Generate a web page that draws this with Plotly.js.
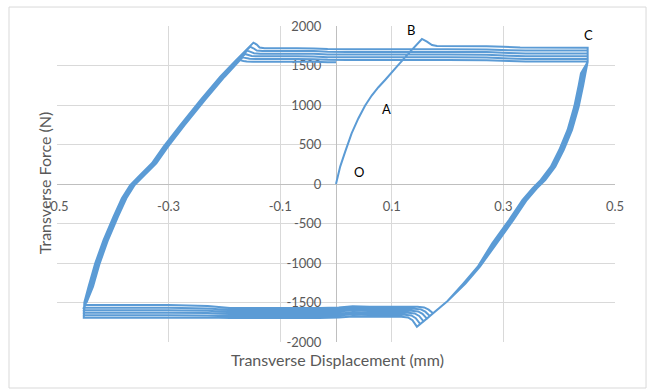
<!DOCTYPE html>
<html>
<head>
<meta charset="utf-8">
<script src="https://cdn.plot.ly/plotly-3.0.1.min.js"></script>
<style>html,body{margin:0;padding:0;background:#fff;}#chart{width:650px;height:392px;}</style>
</head>
<body>
<div id="chart"></div>
<script>
// Tick labels
const xTickVals = [-0.5, -0.3, -0.1, 0.1, 0.3, 0.5];
const xTickText = ['-0.5', '-0.3', '-0.1', '0.1', '0.3', '0.5'];
const yTickVals = [-2000, -1500, -1000, -500, 0, 500, 1000, 1500, 2000];
const yTickText = ['-2000', '-1500', '-1000', '-500', '0', '500', '1000', '1500', '2000'];

// Initial loading O -> A -> B -> C
const initX = [0, 0.0075, 0.0165, 0.028, 0.040, 0.052, 0.064, 0.076, 0.088, 0.109, 0.133, 0.154, 0.163, 0.172, 0.181, 0.27, 0.30, 0.33, 0.451];
const initY = [0, 220, 410, 640, 830, 990, 1120, 1225, 1317, 1485, 1675, 1836, 1802, 1760, 1747, 1745, 1738, 1728, 1726];

// Hysteresis cycles (displacement mm, force N)
const loop1X = [0.451, 0.447, 0.443, 0.435, 0.423, 0.408, 0.393, 0.375, 0.360, 0.342, 0.318, 0.288, 0.258, 0.232, 0.200, 0.172, 0.145, 0.137, 0.129, 0.117, 0.06, 0.03, 0.005, -0.03, -0.19, -0.23, -0.30, -0.452, -0.451, -0.4435, -0.4315, -0.4166, -0.3987, -0.3837, -0.3688, -0.351, -0.330, -0.309, -0.279, -0.243, -0.2075, -0.180, -0.148, -0.142, -0.137, -0.128, -0.07, -0.04, -0.015, 0.02, 0.20, 0.27, 0.31, 0.34, 0.451];
const loop1Y = [1545, 1400, 1250, 980, 684, 430, 219, 51, -55, -203, -456, -751, -1047, -1260, -1480, -1650, -1806, -1725, -1690, -1680, -1680, -1676, -1690, -1696, -1697, -1690, -1693, -1693, -1500, -1300, -1004, -709, -414, -181, -13, 114, 262, 472, 747, 1063, 1358, 1560, 1789, 1765, 1728, 1718, 1718, 1716, 1708, 1706, 1706, 1704, 1694, 1690, 1690];

const loop2X = [0.451, 0.445, 0.441, 0.433, 0.421, 0.406, 0.391, 0.373, 0.358, 0.340, 0.316, 0.286, 0.257, 0.231, 0.200, 0.172, 0.151, 0.143, 0.135, 0.123, 0.06, 0.03, 0.005, -0.03, -0.19, -0.23, -0.30, -0.452, -0.450, -0.4415, -0.4295, -0.4146, -0.3967, -0.3817, -0.3668, -0.349, -0.328, -0.307, -0.277, -0.241, -0.2055, -0.178, -0.154, -0.148, -0.142, -0.132, -0.07, -0.04, -0.015, 0.02, 0.20, 0.27, 0.31, 0.34, 0.451];
const loop2Y = [1545, 1400, 1250, 980, 684, 430, 219, 51, -55, -203, -456, -751, -1047, -1260, -1480, -1650, -1772, -1698, -1664, -1655, -1655, -1650, -1665, -1671, -1672, -1663, -1661, -1661, -1500, -1300, -1004, -709, -414, -181, -13, 114, 262, 472, 747, 1063, 1358, 1560, 1738, 1718, 1690, 1684, 1684, 1682, 1674, 1672, 1672, 1670, 1658, 1652, 1652];

const loop3X = [0.451, 0.443, 0.439, 0.431, 0.419, 0.404, 0.389, 0.371, 0.356, 0.338, 0.314, 0.284, 0.256, 0.230, 0.200, 0.172, 0.157, 0.149, 0.141, 0.129, 0.06, 0.03, 0.005, -0.03, -0.19, -0.23, -0.30, -0.452, -0.4495, -0.4405, -0.4285, -0.4136, -0.3957, -0.3807, -0.3658, -0.348, -0.327, -0.306, -0.276, -0.240, -0.2045, -0.177, -0.159, -0.153, -0.147, -0.136, -0.07, -0.04, -0.015, 0.02, 0.20, 0.27, 0.31, 0.34, 0.451];
const loop3Y = [1545, 1400, 1250, 980, 684, 430, 219, 51, -55, -203, -456, -751, -1047, -1260, -1480, -1650, -1738, -1670, -1639, -1630, -1630, -1625, -1640, -1646, -1647, -1634, -1629, -1629, -1500, -1300, -1004, -709, -414, -181, -13, 114, 262, 472, 747, 1063, 1358, 1560, 1688, 1672, 1655, 1650, 1650, 1648, 1640, 1638, 1638, 1636, 1624, 1618, 1618];

const loop4X = [0.451, 0.442, 0.438, 0.430, 0.418, 0.403, 0.388, 0.370, 0.355, 0.337, 0.313, 0.283, 0.255, 0.229, 0.200, 0.172, 0.163, 0.155, 0.147, 0.135, 0.06, 0.03, 0.005, -0.03, -0.19, -0.23, -0.30, -0.452, -0.4485, -0.4385, -0.4265, -0.4116, -0.3937, -0.3787, -0.3638, -0.346, -0.325, -0.304, -0.274, -0.238, -0.2025, -0.175, -0.163, -0.157, -0.151, -0.140, -0.07, -0.04, -0.015, 0.02, 0.20, 0.27, 0.31, 0.34, 0.451];
const loop4Y = [1545, 1400, 1250, 980, 684, 430, 219, 51, -55, -203, -456, -751, -1047, -1260, -1480, -1650, -1704, -1643, -1613, -1604, -1604, -1599, -1614, -1620, -1621, -1605, -1597, -1597, -1500, -1300, -1004, -709, -414, -181, -13, 114, 262, 472, 747, 1063, 1358, 1560, 1646, 1633, 1620, 1616, 1616, 1614, 1606, 1604, 1604, 1602, 1588, 1582, 1582];

const loop5X = [0.451, 0.440, 0.436, 0.428, 0.416, 0.401, 0.386, 0.368, 0.353, 0.335, 0.311, 0.281, 0.254, 0.228, 0.200, 0.168, 0.160, 0.152, 0.140, 0.06, 0.03, 0.005, -0.03, -0.19, -0.23, -0.30, -0.452, -0.448, -0.4375, -0.4255, -0.4106, -0.3927, -0.3777, -0.3628, -0.345, -0.324, -0.303, -0.273, -0.237, -0.2015, -0.174, -0.167, -0.161, -0.155, -0.144, -0.07, -0.04, -0.015, 0.02, 0.20, 0.27, 0.31, 0.34, 0.451];
const loop5Y = [1545, 1400, 1250, 980, 684, 430, 219, 51, -55, -203, -456, -751, -1047, -1260, -1480, -1670, -1616, -1587, -1578, -1578, -1573, -1588, -1594, -1595, -1575, -1565, -1565, -1500, -1300, -1004, -709, -414, -181, -13, 114, 262, 472, 747, 1063, 1358, 1560, 1604, 1594, 1585, 1582, 1582, 1580, 1572, 1570, 1570, 1568, 1556, 1550, 1550];

const loop6X = [0.451, 0.439, 0.435, 0.427, 0.415, 0.400, 0.385, 0.367, 0.352, 0.334, 0.310, 0.280, 0.254, 0.228, 0.200, 0.174, 0.166, 0.158, 0.146, 0.06, 0.03, 0.005, -0.03, -0.19, -0.23, -0.30, -0.452, -0.447, -0.4355, -0.4235, -0.4086, -0.3907, -0.3757, -0.3608, -0.343, -0.322, -0.301, -0.271, -0.235, -0.1995, -0.172, -0.166, -0.160, -0.149, -0.07, -0.04, -0.015, 0.0];
const loop6Y = [1545, 1400, 1250, 980, 684, 430, 219, 51, -55, -203, -456, -751, -1047, -1260, -1480, -1636, -1590, -1562, -1553, -1553, -1548, -1563, -1569, -1570, -1545, -1533, -1533, -1500, -1300, -1004, -709, -414, -181, -13, 114, 262, 472, 747, 1063, 1358, 1570, 1558, 1551, 1548, 1548, 1546, 1540, 1540];

// Point labels
const labelText = ['O', 'A', 'B', 'C'];
const labelX = [0.042, 0.091, 0.135, 0.4525];
const labelY = [156, 946, 1950, 1886];

const pathX = initX.concat(loop1X, loop2X, loop3X, loop4X, loop5X, loop6X);
const pathY = initY.concat(loop1Y, loop2Y, loop3Y, loop4Y, loop5Y, loop6Y);

const FONT = 'Lato, "Open Sans", sans-serif';
const GRAY = '#595959';

const traces = [{
  x: pathX, y: pathY, type: 'scatter', mode: 'lines',
  line: {color: '#5B9BD5', width: 2, simplify: false},
  hoverinfo: 'skip'
}];

const annotations = labelText.map((t, i) => ({
  x: labelX[i], y: labelY[i], xref: 'x', yref: 'y', text: t, showarrow: false,
  font: {family: FONT, size: 13, color: '#000'}, xanchor: 'center', yanchor: 'middle'
}));
annotations.push({
  xref: 'paper', yref: 'paper', x: 0.502, y: -0.056, text: 'Transverse Displacement (mm)',
  showarrow: false, xanchor: 'center', yanchor: 'middle', font: {family: FONT, size: 16, color: GRAY}
});
annotations.push({
  xref: 'paper', yref: 'paper', x: -0.023, y: 0.503, text: 'Transverse Force (N)', textangle: -90,
  showarrow: false, xanchor: 'center', yanchor: 'middle', font: {family: FONT, size: 16, color: GRAY}
});

const layout = {
  width: 650, height: 392,
  margin: {l: 57, r: 35, t: 26, b: 50},
  paper_bgcolor: '#ffffff', plot_bgcolor: '#ffffff',
  showlegend: false,
  font: {family: FONT, size: 13, color: GRAY},
  xaxis: {
    range: [-0.5, 0.5], tickvals: xTickVals, ticktext: xTickText,
    showgrid: true, gridcolor: '#d9d9d9', gridwidth: 1, zeroline: false,
    showline: true, linecolor: '#bfbfbf', linewidth: 1,
    anchor: 'free', position: 0.5, ticks: '', ticklabelstandoff: 10,
    layer: 'below traces', automargin: false,
    tickfont: {family: FONT, size: 13, color: GRAY}
  },
  yaxis: {
    range: [-2000, 2000], tickvals: yTickVals, ticktext: yTickText,
    showgrid: true, gridcolor: '#d9d9d9', gridwidth: 1, zeroline: false,
    showline: true, linecolor: '#bfbfbf', linewidth: 1,
    anchor: 'free', position: 0.5, ticks: '', ticklabelstandoff: 12,
    layer: 'below traces', automargin: false,
    tickfont: {family: FONT, size: 13, color: GRAY}
  },
  annotations: annotations,
  shapes: [{
    type: 'rect', xref: 'paper', yref: 'paper',
    x0: -0.086, x1: 1.0556, y0: -0.1456, y1: 1.060,
    line: {color: '#d9d9d9', width: 1}, fillcolor: 'rgba(0,0,0,0)', layer: 'below'
  }]
};

Plotly.newPlot('chart', traces, layout, {displayModeBar: false, staticPlot: true});
</script>
</body>
</html>
